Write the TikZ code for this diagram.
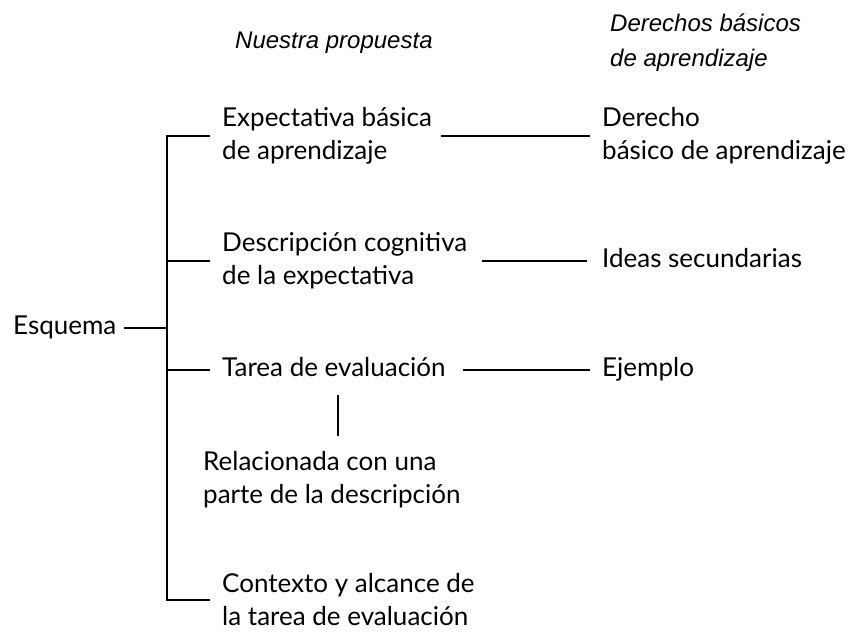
\documentclass[tikz,border=0pt]{standalone}
\usepackage{fontspec}
\setmainfont{Lato}
\newfontfamily\headfont{Liberation Sans}
\usetikzlibrary{positioning}

\begin{document}
\begin{tikzpicture}[
    x=1pt, y=-1pt,
    item/.style={anchor=west, align=left, inner sep=4pt, font=\fontsize{26}{33}\selectfont},
    single/.style={item, text height=19pt, text depth=6pt},
    head/.style={anchor=west, align=left, inner sep=4pt, font=\headfont\itshape\fontsize{24}{35}\selectfont},
    link/.style={line width=2pt}
]
\useasboundingbox (0,0) rectangle (852,633);

% headers
\node[head] (hprop) at (231,43) {Nuestra propuesta};
\node[head] (hdba) at (606,43) {Derechos básicos\\de aprendizaje};

% left column
\node[single] (esq) at (9,328) {Esquema};
\node[item] (exp) at (218,136) {Expectativa básica\\de aprendizaje};
\node[item] (desc) at (218,261) {Descripción cognitiva\\de la expectativa};
\node[single] (tarea) at (218,370) {Tarea de evaluación};
\node[item] (rel) at (199,480) {Relacionada con una\\parte de la descripción};
\node[item] (ctx) at (218,600) {Contexto y alcance de\\la tarea de evaluación};

% right column
\node[item] (der) at (598,136) {Derecho\\básico de aprendizaje};
\node[single] (ideas) at (598,261) {Ideas secundarias};
\node[single] (ejem) at (598,370) {Ejemplo};

% tree
\coordinate (root) at (167,328);
\draw[link, shorten <=3pt] (esq) -- (root);
\draw[link, shorten <=8pt] (exp.west) -| (root);
\draw[link, shorten <=8pt] (ctx.west) -| (root);
\draw[link, shorten <=8pt] (desc.west) -- (desc.west -| root);
\draw[link, shorten <=8pt] (tarea.west) -- (tarea.west -| root);
\draw[link, shorten <=8pt, shorten >=12pt] ([xshift=4pt]tarea.south) -- ([xshift=4pt]tarea.south |- rel.north);

% correspondences
\draw[link, shorten <=5pt, shorten >=8pt] (exp.east) -- (der.west);
\draw[link, shorten <=11pt, shorten >=11pt] (desc.east) -- (ideas.west);
\draw[link, shorten <=13pt, shorten >=8pt] (tarea.east) -- (ejem.west);
\end{tikzpicture}
\end{document}
